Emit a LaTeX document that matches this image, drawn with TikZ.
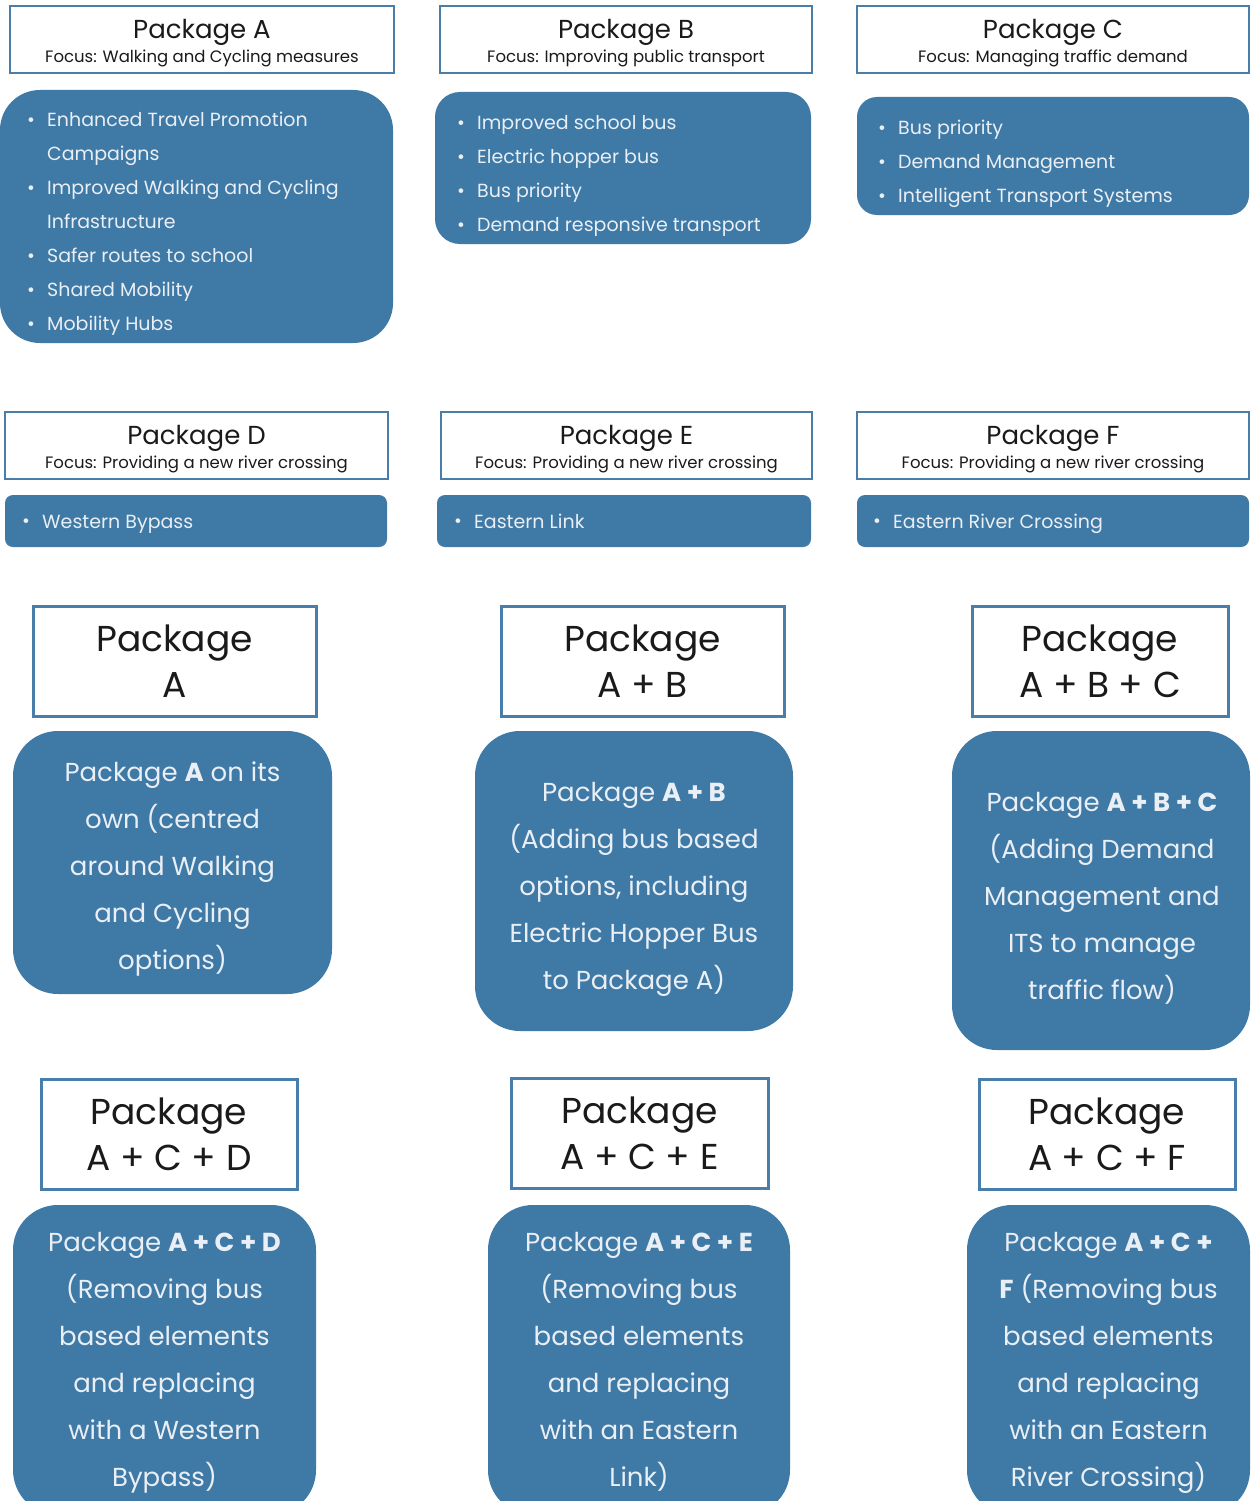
\documentclass[tikz,border=0pt]{standalone}
\usepackage{fontspec}
\setmainfont{Poppins}
\definecolor{boxblue}{HTML}{3F79A6}
\definecolor{edgeblue}{HTML}{4A7EAA}
\definecolor{boxtext}{HTML}{E9EFF5}
\definecolor{headtext}{HTML}{1A1A1A}
\newcommand{\bl}{\makebox[20pt][l]{\fontsize{19}{19}\selectfont\raisebox{0.5pt}{•}}}
\begin{document}
\begin{tikzpicture}[x=1pt,y=-1pt,
  headbox/.style={draw=edgeblue,line width=2.5pt,fill=white,text=headtext,align=center,inner sep=0pt},
  bluebox/.style={fill=boxblue,inner sep=0pt},
  listtext/.style={text=boxtext,anchor=west,inner sep=0pt,align=left,font=\fontsize{19}{34}\selectfont},
  bigtitle/.style={font=\fontsize{36}{46}\selectfont,line width=3pt},
  bodytext/.style={text=boxtext,align=center,inner sep=0pt,font=\fontsize{26}{47}\selectfont}]
\clip (0,0) rectangle (1250,1501);
\fill[white] (0,0) rectangle (1250,1501);

% Row 1 headers
\node[headbox,minimum width=384pt,minimum height=67pt] (hA) at (202,39.5) {};
\node[text=headtext,align=center,inner sep=0pt] (hAt) at (202,43)
  {{\fontsize{26}{28}\selectfont Package A}\\[3pt]{\fontsize{16.5}{18}\selectfont Focus: Walking and Cycling measures}};
\node[headbox,minimum width=372pt,minimum height=67pt] (hB) at (626,39.5) {};
\node[text=headtext,align=center,inner sep=0pt] (hBt) at (626,43)
  {{\fontsize{26}{28}\selectfont Package B}\\[3pt]{\fontsize{16.5}{18}\selectfont Focus: Improving public transport}};
\node[headbox,minimum width=392pt,minimum height=67pt] (hC) at (1053,39.5) {};
\node[text=headtext,align=center,inner sep=0pt] (hCt) at (1053,43)
  {{\fontsize{26}{28}\selectfont Package C}\\[3pt]{\fontsize{16.5}{18}\selectfont Focus: Managing traffic demand}};

% Row 1 lists
\node[bluebox,rounded corners=40pt,minimum width=393pt,minimum height=253pt] (lA) at (196.5,216.5) {};
\node[listtext] (tA) at (27,222) {\begin{tabular}{@{}l@{}l@{}}
\bl & Enhanced Travel Promotion\\
 & Campaigns\\
\bl & Improved Walking and Cycling\\
 & Infrastructure\\
\bl & Safer routes to school\\
\bl & Shared Mobility\\
\bl & Mobility Hubs
\end{tabular}};
\node[bluebox,rounded corners=25pt,minimum width=376pt,minimum height=152pt] (lB) at (623,168) {};
\node[listtext] (tB) at (457,174) {\begin{tabular}{@{}l@{}l@{}}
\bl & Improved school bus\\
\bl & Electric hopper bus\\
\bl & Bus priority\\
\bl & Demand responsive transport
\end{tabular}};
\node[bluebox,rounded corners=20pt,minimum width=392pt,minimum height=118pt] (lC) at (1053,156) {};
\node[listtext] (tC) at (878,162) {\begin{tabular}{@{}l@{}l@{}}
\bl & Bus priority\\
\bl & Demand Management\\
\bl & Intelligent Transport Systems
\end{tabular}};

% Row 2 headers
\node[headbox,minimum width=383pt,minimum height=67pt] (hD) at (196.5,445.5) {};
\node[text=headtext,align=center,inner sep=0pt] (hDt) at (196.5,449)
  {{\fontsize{26}{28}\selectfont Package D}\\[3pt]{\fontsize{16.5}{18}\selectfont Focus: Providing a new river crossing}};
\node[headbox,minimum width=371pt,minimum height=67pt] (hE) at (626.5,445.5) {};
\node[text=headtext,align=center,inner sep=0pt] (hEt) at (626.5,449)
  {{\fontsize{26}{28}\selectfont Package E}\\[3pt]{\fontsize{16.5}{18}\selectfont Focus: Providing a new river crossing}};
\node[headbox,minimum width=392pt,minimum height=67pt] (hF) at (1053,445.5) {};
\node[text=headtext,align=center,inner sep=0pt] (hFt) at (1053,449)
  {{\fontsize{26}{28}\selectfont Package F}\\[3pt]{\fontsize{16.5}{18}\selectfont Focus: Providing a new river crossing}};

% Row 2 lists
\node[bluebox,rounded corners=8pt,minimum width=382pt,minimum height=52pt] (lD) at (196,521) {};
\node[listtext,anchor=base west] (tD) at (22,528) {\bl Western Bypass};
\node[bluebox,rounded corners=8pt,minimum width=374pt,minimum height=52pt] (lE) at (624,521) {};
\node[listtext,anchor=base west] (tE) at (454,528) {\bl Eastern Link};
\node[bluebox,rounded corners=8pt,minimum width=392pt,minimum height=52pt] (lF) at (1053,521) {};
\node[listtext,anchor=base west] (tF) at (873,528) {\bl Eastern River Crossing};

% Row 3 headers
\node[headbox,bigtitle,minimum width=283pt,minimum height=110pt] (h3a) at (174.5,661) {Package\\A};
\node[headbox,bigtitle,minimum width=283pt,minimum height=110pt] (h3b) at (642.5,661) {Package\\A + B};
\node[headbox,bigtitle,minimum width=256pt,minimum height=110pt] (h3c) at (1100,661) {Package\\A + B + C};

% Row 3 bodies
\node[bluebox,rounded corners=45pt,minimum width=319pt,minimum height=263pt] (b3a) at (172.5,862.5) {};
\node[bodytext] (b3at) at (172.5,869)
  {Package \textbf{A} on its\\own (centred\\around Walking\\and Cycling\\options)};
\node[bluebox,rounded corners=45pt,minimum width=318pt,minimum height=300pt] (b3b) at (634,881) {};
\node[bodytext] (b3bt) at (634,889)
  {Package \textbf{A + B}\\(Adding bus based\\options, including\\Electric Hopper Bus\\to Package A)};
\node[bluebox,rounded corners=45pt,minimum width=298pt,minimum height=319pt] (b3c) at (1101,890.5) {};
\node[bodytext] (b3ct) at (1102,898.5)
  {Package \textbf{A + B + C}\\(Adding Demand\\Management and\\ITS to manage\\traffic flow)};

% Row 4 headers
\node[headbox,bigtitle,minimum width=256pt,minimum height=110pt] (h4a) at (169,1134) {Package\\A + C + D};
\node[headbox,bigtitle,minimum width=257pt,minimum height=110pt] (h4b) at (639.5,1133) {Package\\A + C + E};
\node[headbox,bigtitle,minimum width=256pt,minimum height=110pt] (h4c) at (1107,1134) {Package\\A + C + F};

% Row 4 bodies
\node[bluebox,rounded corners=45pt,minimum width=303pt,minimum height=310pt] (b4a) at (164.5,1360) {};
\node[bodytext] (b4at) at (164.5,1363)
  {Package \textbf{A + C + D}\\(Removing bus\\based elements\\and replacing\\with a Western\\Bypass)};
\node[bluebox,rounded corners=45pt,minimum width=302pt,minimum height=310pt] (b4b) at (639,1360) {};
\node[bodytext] (b4bt) at (639,1362)
  {Package \textbf{A + C + E}\\(Removing bus\\based elements\\and replacing\\with an Eastern\\Link)};
\node[bluebox,rounded corners=45pt,minimum width=283pt,minimum height=310pt] (b4c) at (1108.5,1360) {};
\node[bodytext] (b4ct) at (1108.5,1363)
  {Package \textbf{A + C +}\\\textbf{F} (Removing bus\\based elements\\and replacing\\with an Eastern\\River Crossing)};
\end{tikzpicture}
\end{document}
